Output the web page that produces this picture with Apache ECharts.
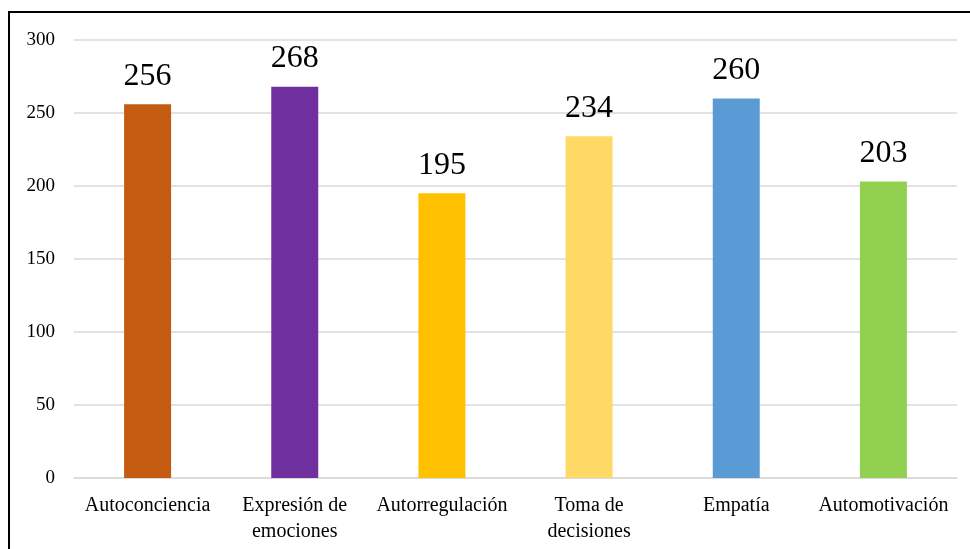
<!DOCTYPE html>
<html>
<head>
<meta charset="utf-8">
<script src="https://cdn.jsdelivr.net/npm/echarts@6/dist/echarts.min.js"></script>
<style>
  html, body { margin: 0; padding: 0; background: #fff; }
  #chart { width: 970px; height: 549px; }
</style>
</head>
<body>
<div id="chart"></div>
<script>
// Competencias emocionales: puntuación total por dimensión
const categories = ['Autoconciencia', 'Expresión de\nemociones', 'Autorregulación', 'Toma de\ndecisiones', 'Empatía', 'Automotivación'];
const values = [256, 268, 195, 234, 260, 203];
const barColors = ['#C55A11', '#7030A0', '#FFC000', '#FFD966', '#5B9BD5', '#92D050'];
const yTicks = [0, 50, 100, 150, 200, 250, 300];

const serif = '"Liberation Serif", "Times New Roman", serif';

const chart = echarts.init(document.getElementById('chart'), null, { renderer: 'canvas' });

chart.setOption({
  animation: false,
  backgroundColor: '#ffffff',
  graphic: [{
    type: 'rect',
    shape: { x: 9, y: 12, width: 980, height: 560 },
    style: { fill: 'none', stroke: '#000000', lineWidth: 2 },
    silent: true
  }],
  grid: { left: 74, right: 13, top: 40, bottom: 71 },
  xAxis: {
    type: 'category',
    data: categories,
    axisLine: { show: true, lineStyle: { color: '#d9d9d9', width: 1.5 } },
    axisTick: { show: false },
    axisLabel: {
      color: '#000',
      fontFamily: serif,
      fontSize: 20,
      lineHeight: 26,
      margin: 15,
      interval: 0
    }
  },
  yAxis: {
    type: 'value',
    min: yTicks[0],
    max: yTicks[yTicks.length - 1],
    interval: 50,
    axisLine: { show: false },
    axisTick: { show: false },
    splitLine: { lineStyle: { color: '#d9d9d9', width: 1.5 } },
    axisLabel: {
      color: '#000',
      fontFamily: serif,
      fontSize: 19,
      margin: 19
    }
  },
  series: [{
    type: 'bar',
    data: values.map((v, i) => ({ value: v, itemStyle: { color: barColors[i] } })),
    barWidth: 47,
    label: {
      show: true,
      position: 'top',
      distance: 12,
      color: '#000',
      fontFamily: serif,
      fontSize: 32
    }
  }]
});
</script>
</body>
</html>
